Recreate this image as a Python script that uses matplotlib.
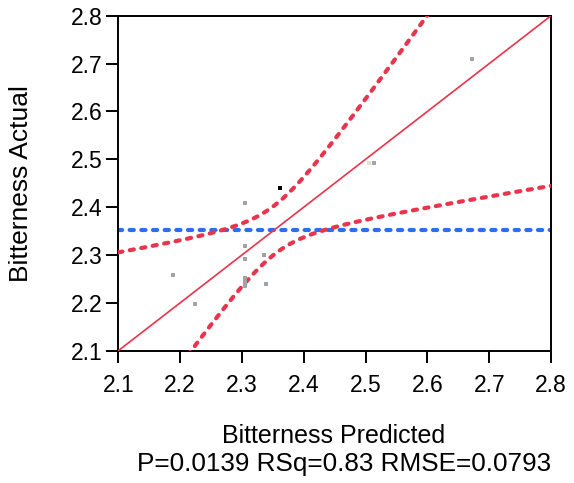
import numpy as np
import matplotlib
matplotlib.use("Agg")
import matplotlib.pyplot as plt

plt.rcParams['font.family'] = ['Liberation Sans', 'DejaVu Sans']

# data
pred_gray = [2.189, 2.224, 2.305, 2.305, 2.305, 2.305, 2.305, 2.305, 2.336, 2.339, 2.514, 2.672]
act_gray = [2.258, 2.198, 2.408, 2.319, 2.291, 2.252, 2.243, 2.236, 2.301, 2.239, 2.492, 2.709]
pred_light = [2.506]
act_light = [2.492]
pred_black = [2.361]
act_black = [2.439]

mean_actual = 2.352
rmse = 0.0793
n_obs = 12
t_crit = 2.228
xbar = 2.353
sxx = 0.0504

ticks = [2.1, 2.2, 2.3, 2.4, 2.5, 2.6, 2.7, 2.8]
xlabel = "Bitterness Predicted"
ylabel = "Bitterness Actual"
stats = "P=0.0139 RSq=0.83 RMSE=0.0793"

fig = plt.figure(figsize=(5.74, 4.83), dpi=100)
ax = fig.add_axes([0.2061, 0.2739, 0.754, 0.6936])

red = '#e8344c'
blue = '#2b6ef0'

xs = np.linspace(2.1, 2.8, 400)
hw = t_crit * rmse * np.sqrt(1.0 / n_obs + (xs - xbar) ** 2 / sxx)
ax.plot(xs, xs, color=red, lw=1.2, zorder=3)
for sgn in (1, -1):
    ax.plot(xs, xs + sgn * hw, color=red, lw=3.0, linestyle=(0, (1.0, 1.8)),
            dash_capstyle='round', zorder=3)
ax.axhline(mean_actual, color=blue, lw=3.0, linestyle=(0, (1.0, 1.8)),
           dash_capstyle='round', zorder=2)

ax.scatter(pred_gray, act_gray, marker='s', s=11, color='#a3a3a3', lw=0, zorder=4)
ax.scatter(pred_light, act_light, marker='s', s=11, color='#e2e2cc', lw=0, zorder=4)
ax.scatter(pred_black, act_black, marker='s', s=11, color='#000000', lw=0, zorder=5)

ax.set_xlim(2.1, 2.8)
ax.set_ylim(2.1, 2.8)
ax.set_xticks(ticks)
ax.set_yticks(ticks)
ax.set_xticklabels([f"{t:.1f}" for t in ticks])
ax.set_yticklabels([f"{t:.1f}" for t in ticks])
for s in ax.spines.values():
    s.set_linewidth(1.4)
ax.tick_params(direction='out', length=8.5, width=1.4, labelsize=16.5)
ax.tick_params(axis='x', pad=8.5)
ax.tick_params(axis='y', pad=3)

fig.text(334 / 574, 1 - 443 / 483, xlabel, ha='center', va='baseline', fontsize=18)
fig.text(344 / 574, 1 - 471.5 / 483, stats, ha='center', va='baseline', fontsize=18.8)
fig.text(33 / 574, 1 - 184 / 483, ylabel, ha='right', va='center', rotation=90, fontsize=19)

fig.savefig('out.png', dpi=100)
